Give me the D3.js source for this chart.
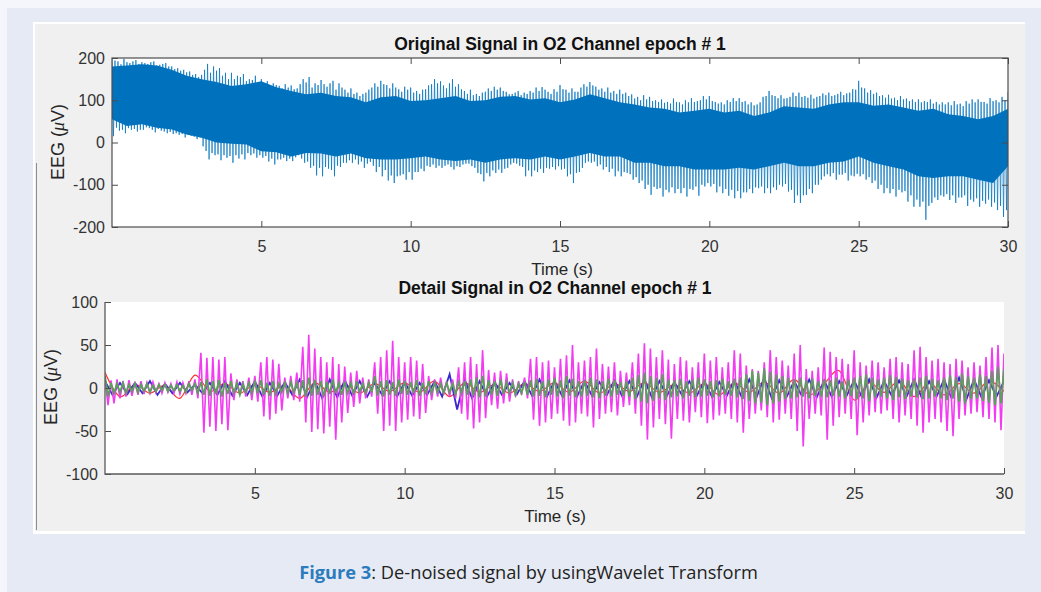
<!DOCTYPE html>
<html>
<head>
<meta charset="utf-8">
<script src="https://cdn.jsdelivr.net/npm/d3@7"></script>
<style>
  html, body { margin: 0; padding: 0; background: #e6eaf5; }
  svg { display: block; }
</style>
</head>
<body>
<svg id="fig" width="1041" height="592"></svg>
<script>
// ---------- Original O2 signal (µV) ----------
// Largest spike extremes, one value every 0.2 s from 0 to 30 s
const origHi = [
  200,192,198,188,195, 190,186,192,184,188, 180,176,172,168,162, 160,186,180,176,165,
  165,158,162,150,158, 150,145,140,134,138, 135,128,150,155,140, 148,132,146,140,125,
  128,118,115,125,140, 146,136,140,126,132, 130,122,125,135,150, 145,128,150,138,122,
  125,115,118,128,132, 130,120,115,122,118, 122,130,131,120,126, 136,125,128,120,138,
  143,132,128,130,122, 125,118,114,108,112, 108,100,102,96,104, 95,100,105,98,110,
  110,96,95,100,105, 105,98,95,90,108, 122,110,112,105,118, 118,110,113,108,116,
  118,112,120,116,126, 146,128,124,118,112, 113,106,110,104,102, 102,98,102,96,95,
  95,98,92,98,102, 102,96,105,100,108, 120
];
const origLo = [
  15,28,22,30,26, 30,34,24,28,22, 20,18,12,16,8, -9,-40,-30,-42,-36,
  -48,-38,-40,-30,-36, -36,-45,-52,-40,-44, -44,-30,-48,-60,-78, -80,-62,-80,-58,-48,
  -48,-52,-60,-46,-70, -80,-90,-96,-78,-88, -88,-70,-68,-58,-60, -60,-52,-64,-58,-50,
  -56,-72,-92,-80,-72, -72,-60,-48,-55,-80, -80,-70,-72,-62,-64, -64,-80,-96,-70,-48,
  -48,-56,-64,-70,-80, -80,-72,-88,-96,-110, -124,-110,-128,-118,-120, -120,-128,-112,-126,-104,
  -104,-118,-120,-126,-132, -132,-118,-120,-108,-120, -120,-112,-104,-116,-143, -143,-124,-120,-100,-80,
  -80,-88,-76,-90,-80, -80,-88,-96,-110,-120, -120,-128,-118,-140,-152, -152,-183,-143,-136,-128,
  -136,-143,-130,-150,-140, -152,-145,-152,-160,-176, -175
];
// Secondary spikes in between, one value every 0.2 s from 0.1 to 29.9 s
const origMidHi = [
  194,185,190,192,186, 188,190,182,186,180, 174,170,166,160,155, 172,165,170,158,150,
  150,155,145,148,140, 140,132,136,128,130, 126,138,142,130,136, 138,140,125,130,118,
  115,110,118,130,132, 138,128,130,120,125, 118,115,126,138,140, 135,140,132,126,115,
  112,110,120,122,125, 122,114,118,112,115, 118,122,125,115,120, 126,118,120,130,132,
  135,125,120,118,115, 115,110,104,100,102, 98,96,94,92,96, 90,95,96,100,102,
  98,92,90,96,98, 96,90,88,95,110, 112,105,104,108,110, 108,106,104,110,112,
  110,115,112,118,125, 130,118,115,110,106, 104,100,102,98,96, 95,96,92,90,90,
  88,90,86,92,95, 96,92,98,95,100
];
const origMidLo = [
  35,30,34,32,30, 36,30,32,26,25, 22,20,18,14,12, -20,-25,-28,-30,-32,
  -30,-28,-25,-26,-30, -32,-38,-40,-36,-38, -35,-38,-45,-55,-60, -58,-65,-55,-48,-42,
  -40,-45,-50,-55,-58, -65,-78,-80,-75,-70, -70,-62,-55,-52,-55, -55,-58,-56,-52,-50,
  -60,-75,-72,-66,-64, -62,-52,-50,-58,-66, -66,-62,-60,-58,-56, -62,-75,-72,-60,-45,
  -45,-52,-58,-62,-68, -70,-75,-82,-90,-100, -105,-108,-112,-106,-110, -108,-110,-104,-100,-96,
  -98,-104,-110,-112,-115, -118,-110,-106,-104,-108, -106,-100,-98,-112,-125, -125,-110,-100,-88,-75,
  -72,-76,-72,-78,-74, -75,-82,-90,-100,-108, -110,-112,-115,-125,-135, -140,-150,-130,-125,-122,
  -125,-130,-125,-135,-132, -138,-135,-142,-150,-160
];
// Dense core band, one value every 0.5 s
const origCoreHi = [
  180,182,185,182,172,158,150,143,134,138,
  145,131,122,114,118,110,107,95,107,110,
  98,100,105,110,98,100,108,110,102,105,
  95,102,114,105,95,90,83,80,71,75,
  80,71,75,63,71,86,83,80,90,95,
  95,87,90,83,75,80,67,63,55,63,
  80
];
const origCoreLo = [
  55,39,43,35,31,19,11,0,-3,-5,
  -21,-23,-33,-25,-26,-33,-26,-37,-40,-40,
  -37,-33,-40,-44,-40,-48,-40,-37,-40,-33,
  -40,-33,-25,-33,-33,-48,-48,-56,-56,-64,
  -64,-64,-60,-64,-56,-48,-56,-56,-48,-45,
  -33,-48,-56,-64,-80,-84,-80,-80,-88,-96,
  -56
];

// ---------- Detail signals (µV) ----------
// Magenta detail level, extremes every 0.2 s
const magHi = [
  12,9,10,8,9, 7,8,6,7,5, 6,5,7,6,8, 10,41,35,36,33,
  36,17,10,8,12, 14,30,36,33,28, 12,14,18,48,62, 46,36,30,36,28,
  25,18,20,12,10, 30,36,44,55,36, 30,36,32,28,14, 10,12,8,10,24,
  30,36,28,44,21, 18,20,17,10,8, 12,34,36,30,32, 24,34,38,50,30,
  32,36,46,28,25, 30,20,18,30,40, 52,46,36,44,33, 28,36,32,24,30,
  40,32,36,24,30, 44,40,26,22,20, 30,44,36,32,26, 40,50,22,20,24,
  47,42,36,34,28, 44,30,26,32,30, 24,34,36,30,28, 44,48,36,32,34,
  30,28,34,32,24, 30,26,36,47,50, 40
];
const magLo = [
  -20,-18,-12,-10,-9, -8,-7,-6,-5,-6, -5,-6,-7,-6,-8, -12,-52,-45,-50,-42,
  -49,-14,-8,-10,-14, -16,-33,-37,-30,-26, -12,-14,-16,-40,-51, -48,-53,-45,-60,-40,
  -29,-22,-18,-12,-10, -30,-50,-44,-50,-40, -37,-33,-36,-29,-14, -10,-8,-10,-12,-30,
  -37,-47,-40,-35,-20, -24,-18,-16,-10,-8, -12,-37,-44,-40,-36, -30,-38,-44,-40,-30,
  -33,-46,-36,-30,-28, -32,-22,-20,-30,-44, -60,-46,-36,-42,-59, -36,-38,-40,-28,-34,
  -41,-37,-32,-30,-36, -40,-52,-36,-30,-26, -34,-40,-37,-30,-36, -50,-68,-36,-30,-32,
  -60,-44,-34,-30,-36, -55,-40,-32,-28,-30, -26,-36,-40,-32,-36, -44,-52,-40,-36,-40,
  -50,-56,-36,-32,-30, -28,-34,-36,-40,-49, -44
];
// Green detail level, extremes every 0.2 s
const greenHi = [
  14,6,5,6,4, 5,4,5,3,4, 4,3,4,3,5, 5,7,10,8,9,
  6,8,6,5,6, 7,9,6,8,5, 6,7,6,9,12, 9,8,7,10,6,
  7,6,8,5,6, 14,8,9,7,10, 8,7,9,6,8, 6,5,6,5,7,
  8,10,12,14,9, 8,10,7,6,5, 7,9,11,8,10, 12,9,14,11,8,
  9,12,10,8,11, 9,7,8,12,15, 18,14,12,16,10, 9,11,8,10,12,
  10,8,9,11,8, 10,12,16,20,18, 23,19,16,14,12, 10,12,9,11,8,
  10,9,12,8,10, 12,14,16,12,10, 12,15,13,11,9, 10,12,14,11,9,
  12,15,13,17,14, 12,16,14,20,25, 22
];
const greenLo = [
  -10,-6,-5,-6,-4, -5,-4,-5,-4,-3, -4,-3,-4,-5,-3, -6,-8,-9,-7,-10,
  -7,-6,-8,-5,-6, -6,-8,-9,-7,-5, -6,-5,-8,-10,-9, -8,-10,-7,-6,-8,
  -6,-7,-5,-6,-5, -9,-10,-8,-9,-7, -8,-6,-9,-7,-6, -5,-6,-5,-7,-6,
  -8,-9,-11,-10,-8, -9,-7,-6,-8,-6, -8,-10,-9,-11,-8, -10,-12,-9,-11,-10,
  -9,-11,-12,-9,-10, -8,-9,-10,-13,-16, -18,-15,-12,-14,-11, -10,-12,-9,-11,-10,
  -9,-11,-10,-8,-9, -11,-13,-15,-18,-17, -20,-18,-16,-13,-12, -11,-10,-12,-9,-10,
  -11,-9,-10,-12,-9, -13,-12,-15,-11,-10, -12,-14,-11,-13,-10, -11,-13,-12,-10,-12,
  -14,-12,-16,-18,-13, -12,-15,-17,-20,-18, -16
];
// Blue detail level, extremes every 0.5 s
const blueHi = [
  8,6,6,8,5,6,4,6,8,6,
  8,6,7,10,8,10,9,8,6,8,
  7,6,8,16,10,8,7,6,8,10,
  8,9,8,7,9,8,10,8,7,8,
  8,7,9,10,12,9,8,10,9,8,
  9,10,8,9,10,8,10,12,10,9,
  8
];
const blueLo = [
  -8,-7,-6,-8,-6,-5,-6,-8,-9,-8,
  -10,-9,-8,-10,-12,-11,-9,-10,-8,-10,
  -9,-8,-10,-25,-12,-10,-8,-7,-9,-10,
  -9,-10,-9,-8,-9,-10,-11,-9,-8,-9,
  -10,-9,-11,-10,-12,-10,-9,-11,-10,-9,
  -10,-11,-9,-10,-11,-10,-12,-13,-11,-10,
  -9
];
// Red (slowest) detail level, one value every 0.5 s
const redVals = [
  18,-10,4,-6,3,-12,15,-4,5,-6,
  4,-5,3,-12,6,-5,4,-6,5,-4,
  6,-5,8,-10,6,-5,4,-6,5,-4,
  6,-5,8,-6,5,-4,6,-5,4,-6,
  5,-8,6,-5,7,-6,10,-8,5,20,
  -14,6,-5,8,-10,6,-8,5,-6,8,
  -4
];

// ---------- Ticks and text ----------
const timeTicks = [5, 10, 15, 20, 25, 30];
const origYTicks = [-200, -100, 0, 100, 200];
const detailYTicks = [-100, -50, 0, 50, 100];
const origTitle = "Original Signal in O2 Channel epoch # 1";
const detailTitle = "Detail Signal in O2 Channel epoch # 1";
const xLabel = "Time (s)";
const captionLabel = "Figure 3";
const captionText = ": De-noised signal by usingWavelet Transform";

const FINE_STEP = 0.2;
const COARSE_STEP = 0.5;
const FONT = '"Liberation Sans", Arial, Helvetica, sans-serif';
const plainNum = d => String(d);

const svg = d3.select("#fig");

// ---------- Page and figure background ----------
svg.append("rect").attr("width", 1041).attr("height", 592).attr("fill", "#e6eaf5");
svg.append("rect").attr("width", 1041).attr("height", 8).attr("fill", "#f4f6fb");
svg.append("rect").attr("width", 7).attr("height", 592).attr("fill", "#f4f6fb");
svg.append("rect").attr("x", 33).attr("y", 22).attr("width", 992).attr("height", 512).attr("fill", "#ffffff");
svg.append("rect").attr("x", 35).attr("y", 24).attr("width", 990).attr("height", 507).attr("fill", "#f0f0f0");
svg.append("line").attr("x1", 36.5).attr("x2", 36.5).attr("y1", 163).attr("y2", 530)
  .attr("stroke", "#8c8c8c").attr("stroke-width", 1);

// zigzag through alternating upper / lower extremes
function zigzag(hi, lo, step) {
  const pts = [];
  hi.forEach((h, i) => {
    pts.push([i * step, h]);
    if (i < hi.length - 1) pts.push([i * step + step / 2, lo[i]]);
  });
  return pts;
}
// zigzag through main extremes and the secondary spikes between them
function zigzag4(hi, lo, midHi, midLo, step) {
  const pts = [];
  hi.forEach((h, i) => {
    const t = i * step;
    pts.push([t, h]);
    if (i < midHi.length) {
      pts.push([t + step * 0.25, lo[i]]);
      pts.push([t + step * 0.5, midHi[i]]);
      pts.push([t + step * 0.75, midLo[i]]);
    }
  });
  return pts;
}

function styleAxis(g) {
  g.select(".domain").remove();
  g.selectAll(".tick line").attr("stroke", "#4d4d4d");
  g.selectAll(".tick text").attr("fill", "#333333")
    .style("font-family", FONT).style("font-size", "16px");
}

function yLabel(x, y) {
  const t = svg.append("text")
    .attr("transform", `translate(${x},${y}) rotate(-90)`)
    .attr("text-anchor", "middle")
    .attr("fill", "#262626")
    .style("font-family", FONT).style("font-size", "18px");
  t.append("tspan").text("EEG (");
  t.append("tspan").style("font-style", "italic").style("font-family", '"Liberation Serif", serif').text("\u03BC");
  t.append("tspan").text("V)");
}

// ================= Top panel: original signal =================
const xTop = d3.scaleLinear().domain([0, 30]).range([112, 1008]);
const yTop = d3.scaleLinear().domain([-200, 200]).range([227, 58]);

svg.append("rect").attr("x", 112).attr("y", 58).attr("width", 896).attr("height", 169).attr("fill", "#ffffff");
svg.append("clipPath").attr("id", "clipTop").append("rect")
  .attr("x", 112).attr("y", 58).attr("width", 896).attr("height", 169);

const gTop = svg.append("g").attr("clip-path", "url(#clipTop)");
// dense core band
const coreArea = d3.area()
  .x((d, i) => xTop(i * COARSE_STEP))
  .y0((d, i) => yTop(origCoreLo[i]))
  .y1(d => yTop(d));
gTop.append("path").datum(origCoreHi).attr("d", coreArea).attr("fill", "#0072bd");
// individual oscillations
gTop.append("path").datum(zigzag4(origHi, origLo, origMidHi, origMidLo, FINE_STEP))
  .attr("d", d3.line().x(d => xTop(d[0])).y(d => yTop(d[1])))
  .attr("fill", "none").attr("stroke", "#0072bd").attr("stroke-width", 0.9).attr("stroke-opacity", 0.8);

svg.append("g").attr("transform", "translate(0,227)")
  .call(d3.axisBottom(xTop).tickValues(timeTicks).tickSize(-6).tickPadding(14).tickFormat(plainNum))
  .call(styleAxis);
svg.append("g").attr("transform", "translate(0,58)")
  .call(d3.axisTop(xTop).tickValues(timeTicks).tickSize(-6).tickFormat(""))
  .call(styleAxis);
svg.append("g").attr("transform", "translate(112,0)")
  .call(d3.axisLeft(yTop).tickValues(origYTicks).tickSize(-6).tickPadding(7).tickFormat(plainNum))
  .call(styleAxis);
svg.append("g").attr("transform", "translate(1008,0)")
  .call(d3.axisRight(yTop).tickValues(origYTicks).tickSize(-6).tickFormat(""))
  .call(styleAxis);
svg.append("rect").attr("x", 112).attr("y", 58).attr("width", 896).attr("height", 169)
  .attr("fill", "none").attr("stroke", "#4d4d4d").attr("stroke-width", 1.2);

svg.append("text").attr("x", 560).attr("y", 50).attr("text-anchor", "middle")
  .attr("fill", "#111").style("font-family", FONT).style("font-size", "17.5px").style("font-weight", "bold")
  .text(origTitle);
svg.append("text").attr("x", 562).attr("y", 275).attr("text-anchor", "middle")
  .attr("fill", "#262626").style("font-family", FONT).style("font-size", "17px").text(xLabel);
yLabel(63.5, 142);

// ================= Bottom panel: detail signals =================
const xBot = d3.scaleLinear().domain([0, 30]).range([105, 1004]);
const yBot = d3.scaleLinear().domain([-100, 100]).range([474, 302]);

svg.append("rect").attr("x", 105).attr("y", 302).attr("width", 899).attr("height", 172).attr("fill", "#ffffff");
svg.append("clipPath").attr("id", "clipBot").append("rect")
  .attr("x", 105).attr("y", 302).attr("width", 899).attr("height", 172);
const gBot = svg.append("g").attr("clip-path", "url(#clipBot)");
const ptLine = d3.line().x(d => xBot(d[0])).y(d => yBot(d[1]));

gBot.append("path").datum(redVals)
  .attr("d", d3.line().x((d, i) => xBot(i * COARSE_STEP)).y(d => yBot(d)).curve(d3.curveCardinal))
  .attr("fill", "none").attr("stroke", "#ff3030").attr("stroke-width", 1.2);
gBot.append("path").datum(zigzag(blueHi, blueLo, COARSE_STEP)).attr("d", ptLine)
  .attr("fill", "none").attr("stroke", "#3a28d0").attr("stroke-width", 1.8);
gBot.append("path").datum(zigzag(magHi, magLo, FINE_STEP)).attr("d", ptLine)
  .attr("fill", "none").attr("stroke", "#f23cf2").attr("stroke-width", 1.6);
gBot.append("path").datum(zigzag(greenHi, greenLo, FINE_STEP)).attr("d", ptLine)
  .attr("fill", "none").attr("stroke", "#5c9f5c").attr("stroke-width", 1.8);

svg.append("g").attr("transform", "translate(0,474)")
  .call(d3.axisBottom(xBot).tickValues(timeTicks).tickSize(-6).tickPadding(14).tickFormat(plainNum))
  .call(styleAxis);
svg.append("g").attr("transform", "translate(105,0)")
  .call(d3.axisLeft(yBot).tickValues(detailYTicks).tickSize(-6).tickPadding(7).tickFormat(plainNum))
  .call(styleAxis);
svg.append("path").attr("d", "M105,302V474H1004")
  .attr("fill", "none").attr("stroke", "#5a5a5a").attr("stroke-width", 1.3);

svg.append("text").attr("x", 555).attr("y", 294).attr("text-anchor", "middle")
  .attr("fill", "#111").style("font-family", FONT).style("font-size", "17.5px").style("font-weight", "bold")
  .text(detailTitle);
svg.append("text").attr("x", 555).attr("y", 522).attr("text-anchor", "middle")
  .attr("fill", "#262626").style("font-family", FONT).style("font-size", "17px").text(xLabel);
yLabel(57, 387);

// ================= Caption =================
const cap = svg.append("text").attr("x", 528.5).attr("y", 579).attr("text-anchor", "middle")
  .style("font-family", '"Open Sans", "Noto Sans", sans-serif').style("font-size", "17px");
cap.append("tspan").attr("fill", "#2b7bbd").style("font-weight", "700").text(captionLabel);
cap.append("tspan").attr("fill", "#231f20").text(captionText);
const capW = cap.node().getComputedTextLength();
cap.style("font-size", (17 * 459 / capW).toFixed(2) + "px");
</script>
</body>
</html>
